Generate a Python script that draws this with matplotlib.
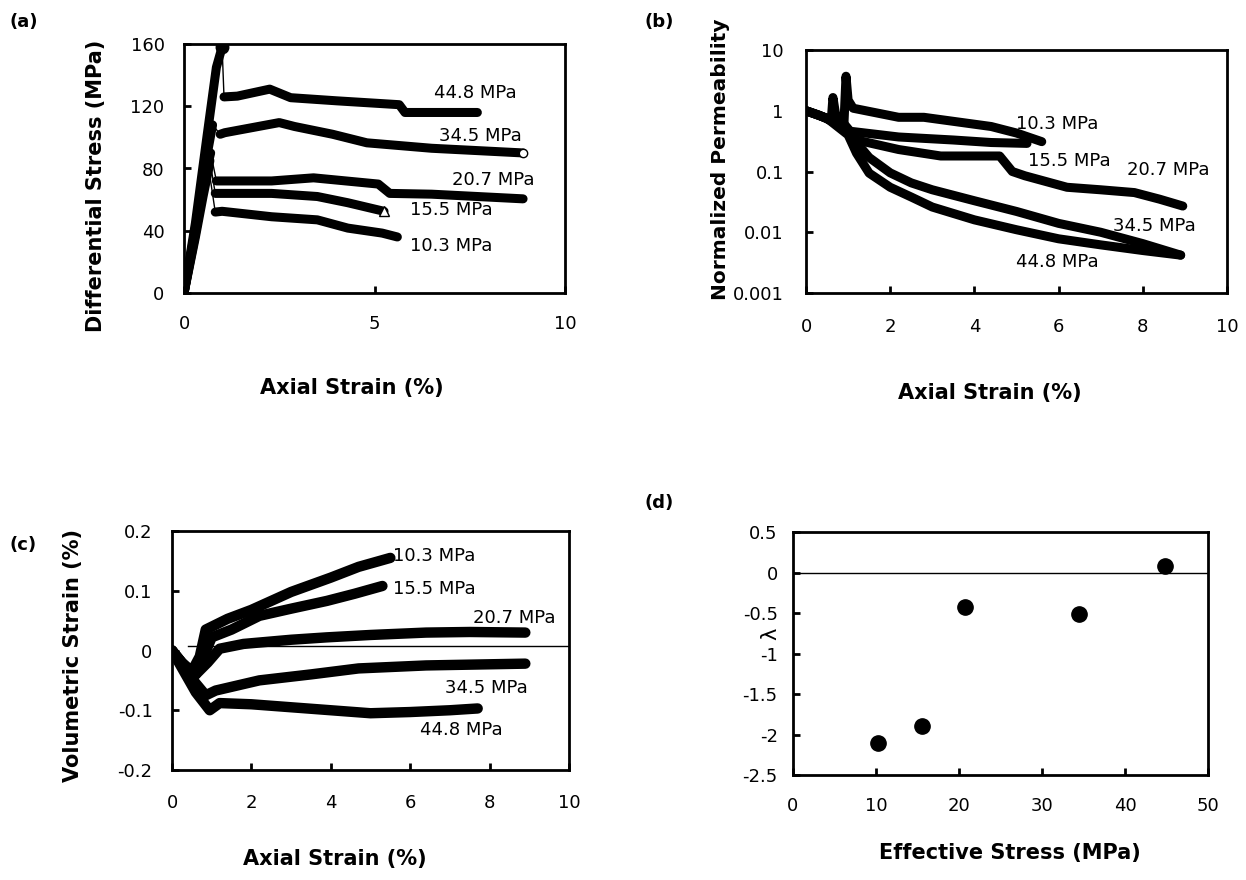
import matplotlib
matplotlib.use("Agg")
import matplotlib.pyplot as plt

plt.rcParams['font.family'] = 'DejaVu Sans'
plt.rcParams['axes.unicode_minus'] = False

# ---- data ----
# (a) differential stress vs axial strain; a_peak = index of the peak point
a_labels = ['44.8 MPa', '34.5 MPa', '20.7 MPa', '15.5 MPa', '10.3 MPa']
a_x_448 = [0, 0.3, 0.6, 0.85, 1.0, 1.05, 1.4, 2.25, 2.8, 4.0, 5.65, 5.8, 6.5, 7.7]
a_y_448 = [0, 45, 100, 145, 158, 126, 126.5, 131, 125.5, 123.5, 121, 116, 116, 116]
a_x_345 = [0, 0.3, 0.6, 0.75, 0.95, 1.07, 1.73, 2.5, 2.9, 3.9, 4.8, 6.5, 8.9]
a_y_345 = [0, 42, 88, 108, 102, 103, 106, 109.5, 107, 102, 96.5, 93, 90]
a_x_207 = [0, 0.3, 0.55, 0.7, 0.85, 1.1, 2.3, 3.4, 5.1, 5.4, 6.5, 8.9]
a_y_207 = [0, 40, 75, 90, 72, 72, 72, 74, 70, 64, 63.5, 60.5]
a_x_155 = [0, 0.3, 0.5, 0.68, 0.82, 1.0, 2.3, 3.5, 4.3, 5.25]
a_y_155 = [0, 38, 66, 85, 64, 64, 64, 62, 58, 52.5]
a_x_103 = [0, 0.3, 0.5, 0.65, 0.82, 1.0, 2.3, 3.5, 4.3, 5.2, 5.6]
a_y_103 = [0, 36, 62, 80, 52, 52.5, 49, 47, 41.7, 38.5, 36]
a_peak = [4, 3, 3, 3, 3]
a_text_x = [6.57, 6.7, 7.04, 5.92, 5.92]
a_text_y = [128.8, 100.9, 72.9, 53.5, 29.9]

# (b) normalized permeability vs axial strain
b_labels = ['10.3 MPa', '15.5 MPa', '20.7 MPa', '34.5 MPa', '44.8 MPa']
b_x_103 = [0, 0.3, 0.6, 0.9, 0.95, 1.0, 1.12, 2.2, 2.8, 4.4, 5.0, 5.6]
b_k_103 = [1, 0.85, 0.68, 0.58, 3.7, 1.5, 1.1, 0.78, 0.78, 0.55, 0.43, 0.31]
b_x_155 = [0, 0.3, 0.6, 0.64, 0.7, 1.05, 2.2, 3.5, 4.4, 5.25]
b_k_155 = [1, 0.85, 0.7, 1.65, 0.9, 0.46, 0.37, 0.33, 0.3, 0.29]
b_x_207 = [0, 0.5, 1.0, 1.2, 2.2, 3.2, 4.6, 4.9, 5.2, 6.2, 7.0, 7.8, 8.4, 8.95]
b_k_207 = [1, 0.75, 0.48, 0.33, 0.23, 0.18, 0.18, 0.1, 0.085, 0.055, 0.05, 0.045, 0.035, 0.027]
b_x_345 = [0, 0.5, 1.0, 1.2, 1.5, 2.0, 2.5, 3.0, 4.0, 5.0, 6.0, 7.0, 8.0, 8.9]
b_k_345 = [1, 0.75, 0.45, 0.3, 0.17, 0.095, 0.065, 0.05, 0.033, 0.022, 0.014, 0.01, 0.0065, 0.0042]
b_x_448 = [0, 0.5, 1.0, 1.2, 1.5, 2.0, 2.5, 3.0, 4.0, 5.0, 6.0, 7.0, 8.0, 8.9]
b_k_448 = [1, 0.75, 0.4, 0.2, 0.094, 0.055, 0.038, 0.026, 0.016, 0.011, 0.0078, 0.0062, 0.005, 0.0042]
b_text_x = [5.0, 5.28, 7.62, 7.3, 5.0]
b_text_y = [0.61, 0.147, 0.107, 0.0125, 0.0033]

# (c) volumetric strain vs axial strain
c_labels = ['10.3 MPa', '15.5 MPa', '20.7 MPa', '34.5 MPa', '44.8 MPa']
c_x_103 = [0, 0.25, 0.5, 0.7, 0.85, 1.4, 2.0, 3.0, 4.0, 4.7, 5.5]
c_v_103 = [0, -0.02, -0.035, -0.01, 0.035, 0.053, 0.068, 0.098, 0.122, 0.14, 0.155]
c_x_155 = [0, 0.3, 0.6, 0.8, 1.0, 1.5, 2.2, 3.0, 3.9, 4.6, 5.3]
c_v_155 = [0, -0.025, -0.04, -0.01, 0.022, 0.035, 0.058, 0.07, 0.083, 0.095, 0.108]
c_x_207 = [0, 0.3, 0.6, 0.9, 1.2, 1.8, 3.0, 3.9, 5.0, 6.4, 7.5, 8.9]
c_v_207 = [0, -0.025, -0.04, -0.02, 0.003, 0.011, 0.018, 0.022, 0.026, 0.03, 0.031, 0.03]
c_x_345 = [0, 0.3, 0.6, 0.85, 1.1, 2.2, 3.5, 4.7, 6.4, 8.9]
c_v_345 = [0, -0.03, -0.055, -0.075, -0.067, -0.05, -0.04, -0.03, -0.025, -0.022]
c_x_448 = [0, 0.3, 0.6, 0.95, 1.2, 2.0, 3.0, 4.0, 5.0, 6.0, 7.0, 7.7]
c_v_448 = [0, -0.035, -0.07, -0.1, -0.088, -0.09, -0.095, -0.1, -0.105, -0.103, -0.1, -0.097]
c_ref_x = [0.4, 10]
c_ref_y = [0.007, 0.007]
c_text_x = [5.57, 5.57, 7.58, 6.88, 6.25]
c_text_y = [0.158, 0.103, 0.055, -0.063, -0.133]

# (d) lambda vs effective stress
d_stress = [10.3, 15.5, 20.7, 34.5, 44.8]
d_lambda = [-2.11, -1.89, -0.43, -0.51, 0.085]

a_xticks = [0, 5, 10]
a_yticks = [0, 40, 80, 120, 160]
b_xticks = [0, 2, 4, 6, 8, 10]
b_yticks = [0.001, 0.01, 0.1, 1, 10]
b_yticklabels = ['0.001', '0.01', '0.1', '1', '10']
c_xticks = [0, 2, 4, 6, 8, 10]
c_yticks = [-0.2, -0.1, 0, 0.1, 0.2]
c_yticklabels = ['-0.2', '-0.1', '0', '0.1', '0.2']
d_xticks = [0, 10, 20, 30, 40, 50]
d_yticks = [-2.5, -2, -1.5, -1, -0.5, 0, 0.5]
d_yticklabels = ['-2.5', '-2', '-1.5', '-1', '-0.5', '0', '0.5']

W, H = 1246, 880
fig = plt.figure(figsize=(W / 100, H / 100), dpi=100)


def add_ax(l, t, r, b):
    # axes box given in pixel edges of the figure
    return fig.add_axes([l / W, 1 - b / H, (r - l) / W, (b - t) / H])


def style(ax, xpad, ypad):
    for s in ax.spines.values():
        s.set_linewidth(2.0)
    ax.tick_params(direction='in', length=5, width=2, labelsize=13,
                   top=False, right=False)
    ax.tick_params(axis='x', pad=xpad)
    ax.tick_params(axis='y', pad=ypad)
    ax.tick_params(which='minor', left=False, bottom=False)


lab_font = dict(fontsize=15, fontweight='bold')
txt_size = 13
thick = 6.5

# ---- (a) ----
ax = add_ax(184, 44, 565, 293)
a_series = [(a_x_448, a_y_448), (a_x_345, a_y_345), (a_x_207, a_y_207),
            (a_x_155, a_y_155), (a_x_103, a_y_103)]
for (xs, ys), p in zip(a_series, a_peak):
    ax.plot(xs, ys, color='black', lw=1)
    ax.plot(xs[:p + 1], ys[:p + 1], color='black', lw=thick, solid_capstyle='round')
    ax.plot(xs[p + 1:], ys[p + 1:], color='black', lw=thick, solid_capstyle='round')
ax.plot([a_x_448[a_peak[0]]], [a_y_448[a_peak[0]]], 'o', color='black', ms=9)
ax.plot([a_x_345[-1]], [a_y_345[-1]], 'o', mfc='white', mec='black', ms=6)
ax.plot([a_x_155[-1]], [a_y_155[-1]], '^', mfc='white', mec='black', ms=7)
for t, tx, ty in zip(a_labels, a_text_x, a_text_y):
    ax.text(tx, ty, t, fontsize=txt_size, va='center', ha='left')
ax.set_xlim(0, 10)
ax.set_ylim(0, 160)
ax.set_xticks(a_xticks)
ax.set_yticks(a_yticks)
style(ax, 16, 14)
ax.set_xlabel('Axial Strain (%)', **lab_font)
ax.set_ylabel('Differential Stress (MPa)', **lab_font)
ax.xaxis.set_label_coords(0.441, -0.34)
ax.yaxis.set_label_coords(-0.205, 0.43)

# ---- (b) ----
ax = add_ax(806, 50, 1227, 293)
for xs, ks in [(b_x_103, b_k_103), (b_x_155, b_k_155), (b_x_207, b_k_207),
               (b_x_345, b_k_345), (b_x_448, b_k_448)]:
    ax.plot(xs, ks, color='black', lw=thick, solid_capstyle='round')
for t, tx, ty in zip(b_labels, b_text_x, b_text_y):
    ax.text(tx, ty, t, fontsize=txt_size, va='center', ha='left')
ax.set_yscale('log')
ax.set_xlim(0, 10)
ax.set_ylim(0.001, 10)
ax.set_xticks(b_xticks)
ax.set_yticks(b_yticks)
ax.set_yticklabels(b_yticklabels)
style(ax, 18, 16)
ax.set_xlabel('Axial Strain (%)', **lab_font)
ax.set_ylabel('Normalized Permeability', fontsize=14.5, fontweight='bold')
ax.xaxis.set_label_coords(0.437, -0.37)
ax.yaxis.set_label_coords(-0.18, 0.55)

# ---- (c) ----
ax = add_ax(172, 531, 569, 770)
ax.plot(c_ref_x, c_ref_y, color='black', lw=1)
for xs, vs in [(c_x_103, c_v_103), (c_x_155, c_v_155), (c_x_207, c_v_207),
               (c_x_345, c_v_345), (c_x_448, c_v_448)]:
    ax.plot(xs, vs, color='black', lw=thick + 1, solid_capstyle='round')
for t, tx, ty in zip(c_labels, c_text_x, c_text_y):
    ax.text(tx, ty, t, fontsize=txt_size, va='center', ha='left')
ax.set_xlim(0, 10)
ax.set_ylim(-0.2, 0.2)
ax.set_xticks(c_xticks)
ax.set_yticks(c_yticks)
ax.set_yticklabels(c_yticklabels)
style(ax, 17, 14)
ax.set_xlabel('Axial Strain (%)', **lab_font)
ax.set_ylabel('Volumetric Strain (%)', **lab_font)
ax.xaxis.set_label_coords(0.41, -0.33)
ax.yaxis.set_label_coords(-0.225, 0.48)

# ---- (d) ----
ax = add_ax(793, 532, 1208, 775)
ax.axhline(0, color='black', lw=1)
ax.plot(d_stress, d_lambda, 'o', color='black', ms=11)
ax.set_xlim(0, 50)
ax.set_ylim(-2.5, 0.5)
ax.set_xticks(d_xticks)
ax.set_yticks(d_yticks)
ax.set_yticklabels(d_yticklabels)
style(ax, 16, 11)
ax.set_xlabel('Effective Stress (MPa)', **lab_font)
ax.set_ylabel('λ', fontsize=15)
ax.xaxis.set_label_coords(0.523, -0.28)
ax.yaxis.set_label_coords(-0.03, 0.58)

# panel letters
for t, px, py in [('(a)', 10, 22), ('(b)', 645, 22), ('(c)', 10, 545), ('(d)', 645, 503)]:
    fig.text(px / W, 1 - py / H, t, fontsize=13, fontweight='bold', va='center', ha='left')

fig.savefig('out.png', dpi=100)
